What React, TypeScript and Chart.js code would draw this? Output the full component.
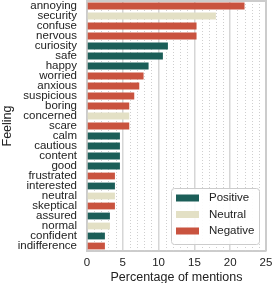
import React, { useEffect, useRef } from "react";
import { Chart, registerables } from "chart.js";

Chart.register(...registerables);

const categories = [
  "annoying", "security", "confuse", "nervous", "curiosity", "safe", "happy",
  "worried", "anxious", "suspicious", "boring", "concerned", "scare", "calm",
  "cautious", "content", "good", "frustrated", "interested", "neutral",
  "skeptical", "assured", "normal", "confident", "indifference",
];
const values = [
  22.0, 18.0, 15.3, 15.3, 11.3, 10.6, 8.6, 7.9, 7.3, 6.6, 5.9, 5.9, 5.9, 4.6,
  4.6, 4.6, 4.6, 3.9, 3.9, 3.9, 3.9, 3.2, 3.2, 2.5, 2.5,
];
const sentiments = [
  "Negative", "Neutral", "Negative", "Negative", "Positive", "Positive", "Positive",
  "Negative", "Negative", "Negative", "Negative", "Neutral", "Negative", "Positive",
  "Positive", "Positive", "Positive", "Negative", "Positive", "Neutral",
  "Negative", "Positive", "Neutral", "Positive", "Negative",
];
const sentimentOrder = ["Positive", "Neutral", "Negative"];
const sentimentColors = ["#1b5e58", "#e3e0c5", "#c9533f"];
const xTicks = [0, 5, 10, 15, 20, 25];

const FONT = "'Liberation Sans', Arial, sans-serif";

const decorPlugin = {
  id: "decor",
  beforeDatasetsDraw(chart: any) {
    const { ctx, chartArea } = chart;
    const xs = chart.scales.x;
    ctx.save();
    ctx.strokeStyle = "#cfcfcf";
    ctx.lineWidth = 1;
    ctx.setLineDash([1, 2]);
    for (let v = 1; v < 25; v++) {
      if (v % 5 === 0) continue;
      const px = Math.round(xs.getPixelForValue(v)) + 0.5;
      ctx.beginPath();
      ctx.moveTo(px, chartArea.top);
      ctx.lineTo(px, chartArea.bottom);
      ctx.stroke();
    }
    ctx.setLineDash([]);
    ctx.strokeStyle = "#cccccc";
    ctx.lineWidth = 2;
    ctx.beginPath();
    ctx.moveTo(chartArea.left, chartArea.top);
    ctx.lineTo(chartArea.right, chartArea.top);
    ctx.lineTo(chartArea.right, chartArea.bottom);
    ctx.stroke();
    ctx.restore();
  },
  afterDraw(chart: any) {
    const { ctx, chartArea } = chart;
    const w = 88;
    const h = 56;
    const x = chartArea.right - 7 - w;
    const y = chartArea.bottom - 7 - h;
    ctx.save();
    ctx.fillStyle = "rgba(255,255,255,0.9)";
    ctx.strokeStyle = "#cccccc";
    ctx.lineWidth = 1;
    ctx.beginPath();
    ctx.roundRect(x + 0.5, y + 0.5, w, h, 3);
    ctx.fill();
    ctx.stroke();
    ctx.font = `11.5px ${FONT}`;
    ctx.textBaseline = "middle";
    chart.data.datasets.forEach((ds: any, i: number) => {
      const cy = y + 10 + i * 16.5;
      ctx.fillStyle = ds.backgroundColor;
      ctx.fillRect(x + 5, cy - 3.5, 23, 7);
      ctx.fillStyle = "#222222";
      ctx.fillText(ds.label, x + 38, cy);
    });
    ctx.restore();
  },
};

export default function App() {
  const ref = useRef<HTMLCanvasElement | null>(null);
  useEffect(() => {
    if (!ref.current) return;
    const datasets = sentimentOrder.map((s, si) => ({
      label: s,
      data: values.map((v, i) => (sentiments[i] === s ? v : null)),
      backgroundColor: sentimentColors[si],
      borderWidth: 0,
      barPercentage: 0.68,
      categoryPercentage: 1,
    }));
    const chart = new Chart(ref.current, {
      type: "bar",
      data: { labels: categories, datasets },
      plugins: [decorPlugin],
      options: {
        indexAxis: "y",
        animation: false,
        responsive: false,
        devicePixelRatio: 1,
        layout: { padding: { top: 1, right: 6, left: 0, bottom: 0 } },
        plugins: { legend: { display: false }, tooltip: { enabled: false } },
        scales: {
          x: {
            type: "linear",
            min: 0,
            max: 25,
            afterBuildTicks: (scale: any) => {
              scale.ticks = xTicks.map((v) => ({ value: v }));
            },
            afterFit: (scale: any) => {
              scale.height = 32;
              scale.paddingLeft = 0;
              scale.paddingRight = 0;
            },
            ticks: {
              font: { family: FONT, size: 11.5 },
              color: "#222222",
              padding: 5,
              maxRotation: 0,
            },
            grid: {
              drawTicks: false,
              color: (c: any) =>
                c.tick && (c.tick.value === 0 || c.tick.value === 25) ? "rgba(0,0,0,0)" : "#d6d6d6",
              lineWidth: 1.5,
            },
            border: { display: true, color: "#cccccc", width: 2 },
            title: {
              display: true,
              text: "Percentage of mentions",
              font: { family: FONT, size: 12.5 },
              color: "#222222",
              padding: { top: 0, bottom: -2 },
            },
          },
          y: {
            stacked: true,
            afterFit: (scale: any) => {
              scale.width = 87;
              scale.paddingTop = 0;
              scale.paddingBottom = 0;
            },
            ticks: {
              font: { family: FONT, size: 11.5 },
              color: "#222222",
              padding: 10,
              autoSkip: false,
            },
            grid: { display: false, drawTicks: false },
            border: { display: true, color: "#cccccc", width: 2 },
            title: {
              display: true,
              text: "Feeling",
              font: { family: FONT, size: 12.5 },
              color: "#222222",
              padding: { top: 0, bottom: 0 },
            },
          },
        },
      },
    } as any);
    return () => chart.destroy();
  }, []);
  return (
    <div style={{ position: "fixed", left: 0, top: 0, width: 272, height: 283, background: "#fff" }}>
      <canvas ref={ref} width={272} height={283} style={{ display: "block" }} />
    </div>
  );
}
